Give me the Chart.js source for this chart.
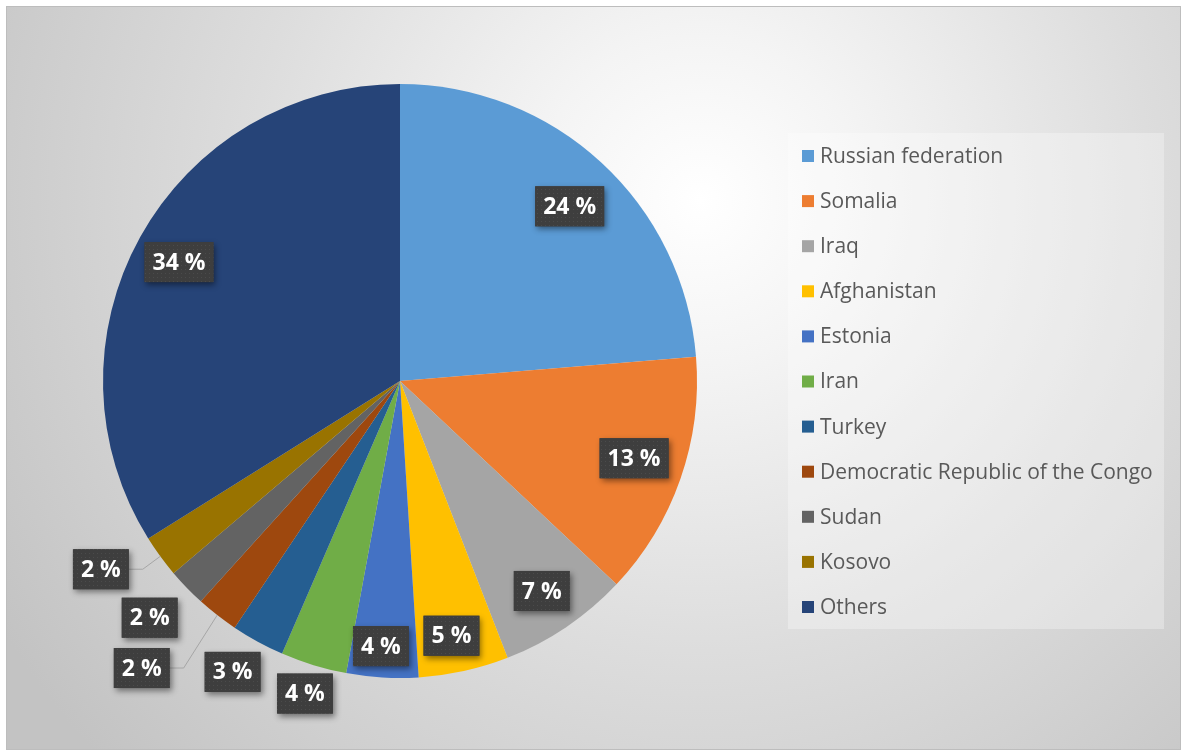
<!DOCTYPE html>
<html>
<head>
<meta charset="utf-8">
<script src="https://cdn.jsdelivr.net/npm/chart.js@4.4.1/dist/chart.umd.min.js"></script>
<style>
  html, body { margin: 0; padding: 0; background: #fff; }
  #wrap { width: 1186px; height: 754px; }
</style>
</head>
<body>
<div id="wrap"><canvas id="pie" width="1186" height="754"></canvas></div>
<script>
// share of asylum seekers by country (%)
const countries = ["Russian federation", "Somalia", "Iraq", "Afghanistan", "Estonia", "Iran",
  "Turkey", "Democratic Republic of the Congo", "Sudan", "Kosovo", "Others"]
const shares = [23.7, 13.3, 7.1, 4.9, 3.9, 3.6, 2.9, 2.3, 2.1, 2.3, 33.9]
const sliceColors = ["#5B9BD5", "#ED7D31", "#A5A5A5", "#FFC000", "#4472C4", "#70AD47",
  "#255E91", "#9E480E", "#636363", "#997300", "#264478"]

// where each data label sits: fraction of radius, small turn in degrees, leader line
const labelSpots = [
  { r: 0.82, turn: 1.5 }, { r: 0.83, turn: -1 }, { r: 0.853, turn: 0 }, { r: 0.875, turn: 1 },
  { r: 0.895, turn: 0.7 }, { r: 1.1, turn: 0 }, { r: 1.13, turn: 1.3 },
  { r: 1.3, turn: 4, leader: true }, { r: 1.16, turn: 0.7 }, { r: 1.19, turn: 4, leader: true },
  { r: 0.845, turn: -0.7 }
]

// dotted texture for the label boxes
let dots = document.createElement("canvas")
dots.width = 4; dots.height = 4
let dctx = dots.getContext("2d")
dctx.fillStyle = "#3e3e3e"; dctx.fillRect(0, 0, 4, 4)
dctx.fillStyle = "#4b4b4b"; dctx.fillRect(1, 1, 1, 1)

const backdrop = {
  id: "backdrop",
  beforeDraw(chart) {
    const ctx = chart.ctx
    ctx.save()
    ctx.fillStyle = "#fff"
    ctx.fillRect(0, 0, chart.width, chart.height)
    let g = ctx.createRadialGradient(700, 200, 0, 700, 200, 820)
    g.addColorStop(0, "#ffffff")
    g.addColorStop(0.2, "#f4f4f4")
    g.addColorStop(0.55, "#dddddd")
    g.addColorStop(1, "#c3c3c3")
    ctx.fillStyle = g
    ctx.fillRect(6, 6, 1175, 744)
    ctx.strokeStyle = "#bdbdbd"
    ctx.lineWidth = 1
    ctx.strokeRect(6.5, 6.5, 1174, 743)
    ctx.restore()
  }
}

const sideLegend = {
  id: "sideLegend",
  afterDraw(chart) {
    const ctx = chart.ctx
    const ds = chart.data.datasets[0]
    ctx.save()
    ctx.fillStyle = "rgba(255,255,255,0.3)"
    ctx.fillRect(788, 133, 376, 496)
    ctx.font = "21px 'Open Sans'"
    ctx.textBaseline = "middle"
    chart.data.labels.forEach((name, i) => {
      let y = 156 + i * 45.1
      ctx.fillStyle = ds.backgroundColor[i]
      ctx.fillRect(802, y - 6, 12, 12)
      ctx.fillStyle = "#595959"
      ctx.fillText(name, 820, y + 1)
    })
    ctx.restore()
  }
}

const boxLabels = {
  id: "boxLabels",
  afterDatasetsDraw(chart) {
    const ctx = chart.ctx
    const meta = chart.getDatasetMeta(0)
    const values = chart.data.datasets[0].data
    ctx.save()
    ctx.font = "bold 23px 'Open Sans'"
    ctx.textAlign = "center"
    ctx.textBaseline = "middle"
    meta.data.forEach((arc, i) => {
      const { x, y, startAngle, endAngle, outerRadius } = arc.getProps(["x", "y", "startAngle", "endAngle", "outerRadius"], true)
      const mid = (startAngle + endAngle) / 2
      const spot = labelSpots[i]
      const a = mid + spot.turn * Math.PI / 180
      const lx = x + Math.cos(a) * outerRadius * spot.r
      const ly = y + Math.sin(a) * outerRadius * spot.r
      const text = Math.round(values[i]) + " %"
      const w = ctx.measureText(text).width + 16
      const h = 40

      if (spot.leader) {
        ctx.strokeStyle = "#a6a6a6"
        ctx.lineWidth = 1
        ctx.beginPath()
        ctx.moveTo(x + Math.cos(mid) * outerRadius, y + Math.sin(mid) * outerRadius)
        ctx.lineTo(lx + w / 2 + 14, ly)
        ctx.lineTo(lx + w / 2, ly)
        ctx.stroke()
      }

      ctx.save()
      ctx.shadowColor = "rgba(0,0,0,0.45)"
      ctx.shadowBlur = 6
      ctx.shadowOffsetX = 2
      ctx.shadowOffsetY = 3
      ctx.fillStyle = "#3e3e3e"
      ctx.fillRect(lx - w / 2, ly - h / 2, w, h)
      ctx.restore()
      ctx.fillStyle = ctx.createPattern(dots, "repeat")
      ctx.fillRect(lx - w / 2, ly - h / 2, w, h)

      ctx.fillStyle = "#ffffff"
      ctx.fillText(text, lx, ly + 1)
    })
    ctx.restore()
  }
}

const chart = new Chart(document.getElementById("pie"), {
  type: "pie",
  data: {
    labels: countries,
    datasets: [{
      data: shares,
      backgroundColor: sliceColors,
      borderWidth: 0,
      radius: 297
    }]
  },
  options: {
    responsive: false,
    animation: false,
    layout: { padding: { left: 0, right: 386, top: 8, bottom: 0 } },
    plugins: {
      legend: { display: false },
      tooltip: { enabled: false }
    }
  },
  plugins: [backdrop, sideLegend, boxLabels]
})
</script>
</body>
</html>
